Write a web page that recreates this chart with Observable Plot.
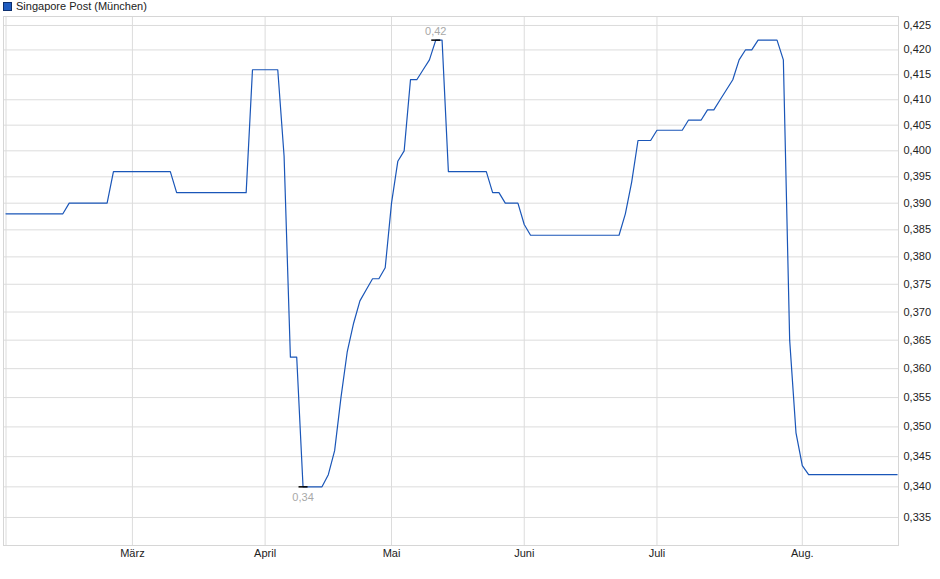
<!DOCTYPE html>
<html>
<head>
<meta charset="utf-8">
<script src="https://cdn.jsdelivr.net/npm/d3@7"></script>
<script src="https://cdn.jsdelivr.net/npm/@observablehq/plot@0.6"></script>
<style>
  body { margin: 0; background: #fff; font-family: "Liberation Sans", Arial, sans-serif; }
  #wrap { position: relative; width: 940px; height: 579px; }
  #legend { position: absolute; left: 3px; top: 0px; font-size: 11px; color: #222; line-height: 13px; display: flex; align-items: center; }
  #legend .sw { width: 7px; height: 7px; background: #1f5cc0; border: 1px solid #0d2f6e; margin-right: 4px; }
</style>
</head>
<body>
<div id="wrap">
  <div id="legend"><span class="sw"></span><span>Singapore Post (München)</span></div>
  <div id="chart"></div>
</div>
<script>
// Month labels and the trading-day index where each month begins
const monthLabels = ["März", "April", "Mai", "Juni", "Juli", "Aug."];
const monthStart = [20, 41, 61, 82, 103, 126];

// Y-axis tick values (EUR)
const yTicks = [0.335, 0.340, 0.345, 0.350, 0.355, 0.360, 0.365, 0.370, 0.375,
                0.380, 0.385, 0.390, 0.395, 0.400, 0.405, 0.410, 0.415, 0.420, 0.425];

// Daily closing prices (EUR), one per trading day
const values = [
  0.388, 0.388, 0.388, 0.388, 0.388, 0.388, 0.388, 0.388, 0.388, 0.388,
  0.390, 0.390, 0.390, 0.390, 0.390, 0.390, 0.390,
  0.396, 0.396, 0.396, 0.396, 0.396, 0.396, 0.396, 0.396, 0.396, 0.396,
  0.392, 0.392, 0.392, 0.392, 0.392, 0.392, 0.392, 0.392, 0.392, 0.392, 0.392, 0.392,
  0.416, 0.416, 0.416, 0.416, 0.416,
  0.399, 0.362, 0.362,
  0.340, 0.340, 0.340, 0.340,
  0.342, 0.346, 0.355, 0.363, 0.368, 0.372, 0.374, 0.376, 0.376, 0.378,
  0.390, 0.398, 0.400, 0.414, 0.414, 0.416, 0.418, 0.422, 0.422,
  0.396, 0.396, 0.396, 0.396, 0.396, 0.396, 0.396,
  0.392, 0.392, 0.390, 0.390, 0.390, 0.386,
  0.384, 0.384, 0.384, 0.384, 0.384, 0.384, 0.384, 0.384, 0.384, 0.384, 0.384, 0.384, 0.384, 0.384, 0.384,
  0.388, 0.394,
  0.402, 0.402, 0.402,
  0.404, 0.404, 0.404, 0.404, 0.404,
  0.406, 0.406, 0.406,
  0.408, 0.408, 0.410, 0.412, 0.414, 0.418, 0.420, 0.420,
  0.422, 0.422, 0.422, 0.422,
  0.418, 0.365, 0.349, 0.3435,
  0.342, 0.342, 0.342, 0.342, 0.342, 0.342, 0.342, 0.342, 0.342, 0.342, 0.342, 0.342, 0.342, 0.342, 0.342
];

const data = values.map((v, i) => ({i, v}));
const iMax = d3.maxIndex(values);
const iMin = d3.minIndex(values);

const fmt3 = d => d.toFixed(3).replace(".", ",");
const fmt2 = d => d.toFixed(2).replace(".", ",");

const hline = {
  draw(context) {
    context.moveTo(-4.5, 0);
    context.lineTo(4.5, 0);
  }
};

const chart = Plot.plot({
  width: 940,
  height: 579,
  marginTop: 16,
  marginBottom: 34,
  marginLeft: 3,
  marginRight: 42,
  style: {fontFamily: "'Liberation Sans', Arial, sans-serif", fontSize: "11px", background: "transparent", color: "#222"},
  x: {type: "linear", domain: [-0.396, 141.22], axis: null},
  y: {type: "log", domain: [0.33049, 0.42685], axis: null},
  marks: [
    Plot.gridY(yTicks, {stroke: "#dcdcdc", strokeOpacity: 1}),
    Plot.gridX([data[0].i, ...monthStart], {stroke: "#dcdcdc", strokeOpacity: 1}),
    Plot.frame({stroke: "#d6d6d6"}),
    Plot.axisY(yTicks, {anchor: "right", label: null, tickSize: 0, tickPadding: 5, tickFormat: fmt3, fill: "#222"}),
    Plot.axisX(monthStart, {anchor: "bottom", label: null, tickSize: 0, tickPadding: 4, tickFormat: d => monthLabels[monthStart.indexOf(d)], fill: "#222"}),
    Plot.line(data, {x: "i", y: "v", stroke: "#1a56b8", strokeWidth: 1.2}),
    Plot.dot([data[iMax], data[iMin]], {x: "i", y: "v", symbol: hline, stroke: "#000", strokeWidth: 1.5, fill: "none"}),
    Plot.text([data[iMax]], {x: "i", y: "v", text: d => fmt2(d.v), dy: -9, fill: "#a8a8a8"}),
    Plot.text([data[iMin]], {x: "i", y: "v", text: d => fmt2(d.v), dy: 11, fill: "#a8a8a8"})
  ]
});
document.getElementById("chart").appendChild(chart);
</script>
</body>
</html>
